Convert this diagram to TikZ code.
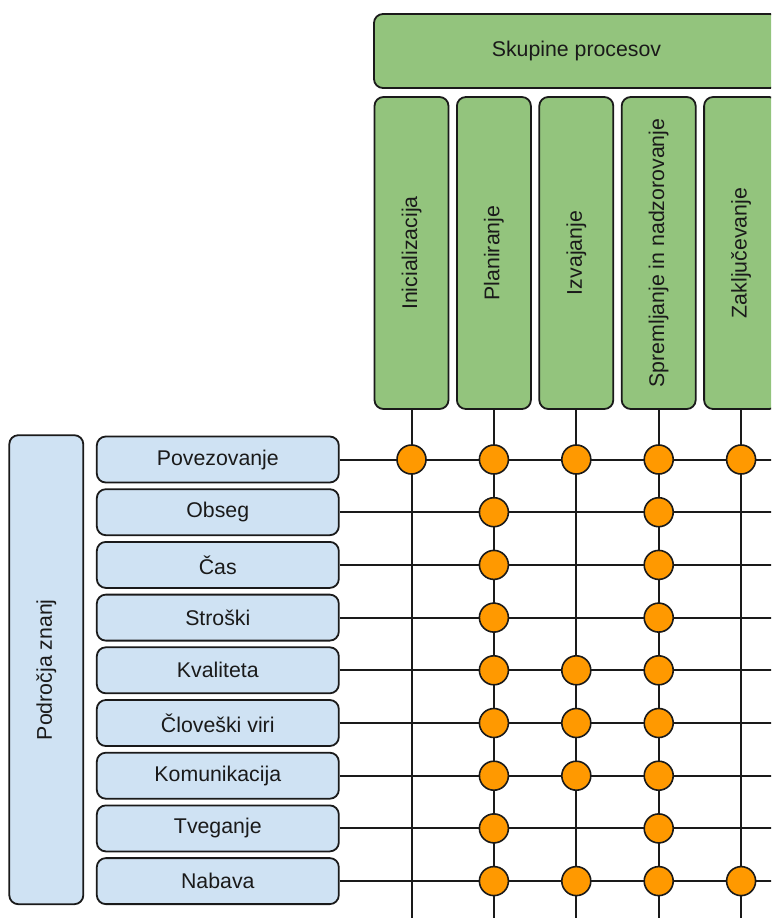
\documentclass[tikz,border=0pt]{standalone}
\usepackage{fontspec}
\setmainfont{Liberation Sans}
\definecolor{groupgreen}{HTML}{93C47D}
\definecolor{areablue}{HTML}{CFE2F3}
\definecolor{dotorange}{HTML}{FF9900}
\definecolor{inkline}{HTML}{1A1A1A}
\begin{document}
\begin{tikzpicture}[x=1pt,y=-1pt,
  box/.style={draw=inkline, line width=1.8pt, rounded corners=9pt, inner sep=0pt,
    text=inkline, font=\fontsize{21.3}{25}\selectfont},
  headbox/.style={box, fill=groupgreen, minimum width=405pt, minimum height=74pt},
  groupbox/.style={box, fill=groupgreen, minimum width=74pt, minimum height=312pt},
  areabox/.style={box, fill=areablue, minimum width=242pt, minimum height=46pt},
  sidebox/.style={box, fill=areablue, minimum width=74pt, minimum height=469pt},
  dot/.style={circle, draw=inkline, line width=1.6pt, fill=dotorange,
    minimum size=29pt, inner sep=0pt},
  link/.style={draw=inkline, line width=2pt}]
\useasboundingbox (0,0) rectangle (771,918);
\clip (0,0) rectangle (771,918);

% process groups
\node[headbox] (head) at (576.5,51) {Skupine procesov};
\foreach \j/\name in {1/Inicializacija, 2/Planiranje, 3/Izvajanje,
    4/Spremljanje in nadzorovanje, 5/Zaključevanje} {
  \node[groupbox] (c\j) at ({411.5+82.4*(\j-1)},253) {\rotatebox{90}{\name}};
  \coordinate (ce\j) at ({411.5+82.4*(\j-1)},930);
}

% knowledge areas
\node[sidebox] (side) at (46.3,669.7) {\rotatebox{90}{Področja znanj}};
\foreach \i/\name in {1/Povezovanje, 2/Obseg, 3/Čas, 4/Stroški, 5/Kvaliteta,
    6/Človeški viri, 7/Komunikacija, 8/Tveganje, 9/Nabava} {
  \node[areabox] (r\i) at (217.8,{459.5+52.7*(\i-1)}) {\name};
  \coordinate (re\i) at (790,{459.5+52.7*(\i-1)});
}

% grid lines
\foreach \j in {1,...,5} { \draw[link] (c\j.south) -- (ce\j); }
\foreach \i in {1,...,9} { \draw[link] (r\i.east) -- (re\i); }

% intersections
\foreach \i/\cols in {1/{1,2,3,4,5}, 2/{2,4}, 3/{2,4}, 4/{2,4}, 5/{2,3,4},
    6/{2,3,4}, 7/{2,3,4}, 8/{2,4}, 9/{2,3,4,5}} {
  \foreach \j in \cols {
    \node[dot] (d\i-\j) at ({411.5+82.4*(\j-1)},{459.5+52.7*(\i-1)}) {};
  }
}
\end{tikzpicture}
\end{document}
